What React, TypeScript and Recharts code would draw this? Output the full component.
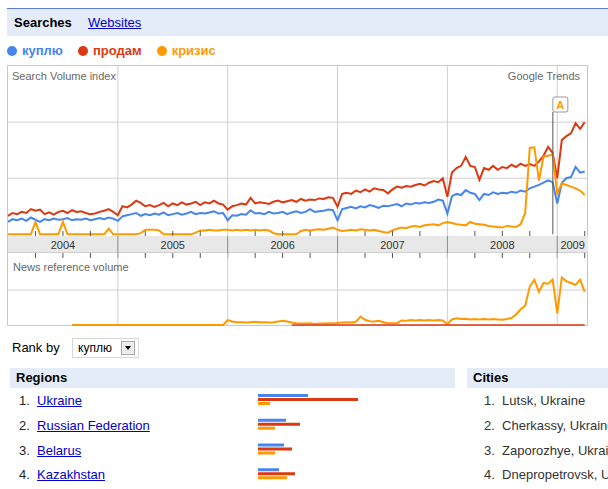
import React from "react";
import { LineChart, Line, XAxis, YAxis, ReferenceLine, BarChart, Bar } from "recharts";

// series (semi-monthly points, Jan 2004 .. early Apr 2009)
const kuplyu = [
  0.22, 0.27, 0.25, 0.28, 0.24, 0.3, 0.26, 0.22, 0.27, 0.25, 0.28, 0.26, 0.27, 0.29, 0.25, 0.27, 0.26, 0.28, 0.25, 0.27, 0.29, 0.27, 0.3, 0.28,
  0.24, 0.32, 0.34, 0.36, 0.38, 0.33, 0.36, 0.34, 0.37, 0.35, 0.39, 0.34, 0.36, 0.38, 0.35, 0.37, 0.4, 0.36, 0.38, 0.37, 0.39, 0.41, 0.37, 0.38,
  0.25, 0.34, 0.33, 0.36, 0.35, 0.43, 0.37, 0.38, 0.36, 0.4, 0.37, 0.38, 0.4, 0.36, 0.39, 0.41, 0.38, 0.4, 0.45, 0.4, 0.41, 0.42, 0.44, 0.43,
  0.25, 0.45, 0.47, 0.49, 0.46, 0.5, 0.48, 0.52, 0.5, 0.47, 0.51, 0.5, 0.52, 0.54, 0.5, 0.55, 0.53, 0.56, 0.55, 0.57, 0.56, 0.58, 0.62, 0.6,
  0.37, 0.68, 0.72, 0.7, 0.79, 0.74, 0.72, 0.61, 0.72, 0.7, 0.75, 0.72, 0.74, 0.73, 0.76, 0.74, 0.78, 0.76, 0.82, 0.85, 0.88, 0.92, 0.96, 0.93,
  0.55, 0.92, 1.0, 1.02, 1.2, 1.1, 1.12,
];
const prodam = [
  0.33, 0.38, 0.36, 0.4, 0.38, 0.45, 0.42, 0.44, 0.36, 0.39, 0.35, 0.4, 0.42, 0.38, 0.43, 0.4, 0.41, 0.38, 0.36, 0.37, 0.4, 0.42, 0.45, 0.4,
  0.34, 0.5, 0.48, 0.53, 0.6, 0.56, 0.5, 0.52, 0.49, 0.52, 0.56, 0.5, 0.55, 0.52, 0.57, 0.53, 0.55, 0.58, 0.52, 0.57, 0.55, 0.6, 0.55, 0.53,
  0.44, 0.5, 0.52, 0.55, 0.53, 0.65, 0.55, 0.57, 0.56, 0.54, 0.58, 0.6, 0.57, 0.59, 0.61, 0.58, 0.63, 0.6, 0.62, 0.61, 0.64, 0.63, 0.66, 0.65,
  0.49, 0.72, 0.74, 0.72, 0.78, 0.75, 0.8, 0.76, 0.82, 0.8, 0.79, 0.73, 0.8, 0.85, 0.83, 0.86, 0.85, 0.88, 0.9, 0.87, 0.92, 0.95, 0.93, 1.0,
  0.67, 1.1, 1.18, 1.22, 1.38, 1.22, 1.2, 0.97, 1.18, 1.15, 1.22, 1.15, 1.2, 1.18, 1.24, 1.2, 1.26, 1.22, 1.25, 1.22, 1.3, 1.4, 1.56, 1.45,
  1.0, 1.68, 1.75, 1.8, 1.98, 1.88, 2.0,
];
const krizis = [
  0, 0, 0, 0, 0, 0, 0.22, 0, 0, 0, 0, 0, 0.22, 0, 0, 0, 0, 0, 0, 0, 0, 0, 0.1, 0,
  0, 0, 0, 0, 0, 0.02, 0.08, 0.08, 0.08, 0.07, 0, 0, 0, 0, 0, 0, 0, 0.03, 0.07, 0.07, 0.08, 0.07, 0.07, 0.08,
  0.08, 0.07, 0.08, 0.07, 0.08, 0.07, 0.08, 0.07, 0.08, 0.07, 0.02, 0, 0, 0, 0, 0, 0.06, 0.08, 0.07, 0.08, 0.09, 0.08, 0.1, 0.12,
  0.08, 0.06, 0.07, 0.08, 0.07, 0.09, 0.08, 0.07, 0.08, 0.06, 0.04, 0.03, 0.07, 0.1, 0.12, 0.11, 0.14, 0.15, 0.13, 0.16, 0.17, 0.18, 0.16, 0.2,
  0.22, 0.2, 0.18, 0.17, 0.16, 0.22, 0.19, 0.18, 0.17, 0.15, 0.14, 0.13, 0.12, 0.15, 0.14, 0.13, 0.18, 0.38, 1.54, 1.55, 0.96, 1.38, 1.4, 1.42,
  0.73, 0.91, 0.88, 0.85, 0.82, 0.78, 0.7,
];

// news reference volume
const newsKrizis = [
  null, null, null, null, null, null, null, null, null, null, null, null, null, null, 0, 0, 0, 0, 0, 0, 0, 0, 0, 0,
  0, 0, 0, 0, 0, 0, 0, 0, 0, 0, 0, 0, 0, 0, 0, 0, 0, 0, 0, 0, 0, 0, 0, 0,
  0.14, 0.1, 0.08, 0.08, 0.07, 0.08, 0.09, 0.08, 0.08, 0.07, 0.08, 0.1, 0.12, 0.1, 0.07, 0.05, 0.04, 0.04, 0.05, 0.03, 0.04, 0.04, 0.05, 0.04,
  0.06, 0.07, 0.08, 0.07, 0.09, 0.24, 0.15, 0.11, 0.1, 0.12, 0.08, 0.05, 0.05, 0.06, 0.13, 0.12, 0.14, 0.13, 0.14, 0.13, 0.14, 0.13, 0.14, 0.13,
  0.02, 0.16, 0.19, 0.17, 0.18, 0.16, 0.17, 0.16, 0.17, 0.16, 0.17, 0.16, 0.15, 0.17, 0.2, 0.3, 0.45, 0.55, 1.1, 1.29, 0.95, 1.2, 1.18, 1.3,
  0.33, 1.36, 1.25, 1.2, 1.15, 1.3, 0.95,
];
const newsProdam = [
  null, null, null, null, null, null, null, null, null, null, null, null, null, null, null, null, null, null, null, null, null, null, null, null,
  null, null, null, null, null, null, null, null, null, null, null, null, null, null, null, null, null, null, null, null, null, null, null, null,
  null, null, null, null, null, null, null, null, null, null, null, null, null, null, 0, 0, 0, 0, 0, 0, 0, 0, 0, 0,
  0, 0, 0, 0, 0, 0, 0, 0, 0, 0, 0, 0, 0, 0, 0, 0, 0, 0, 0, 0, 0, 0, 0, 0,
  0, 0, 0, 0, 0, 0, 0, 0, 0, 0, 0, 0, 0, 0, 0, 0, 0, 0, 0, 0, 0, 0, 0, 0,
  0, 0, 0, 0, 0, 0, 0,
];

const yearLabels = ["2004", "2005", "2006", "2007", "2008", "2009"];
const yearBounds = [2005, 2006, 2007, 2008, 2009];
const markerAt = 2008.96;

const regions = ["Ukraine", "Russian Federation", "Belarus", "Kazakhstan"];
const regionKuplyu = [50, 28, 26, 21];
const regionProdam = [100, 42, 34, 37];
const regionKrizis = [12, 17, 17, 29];
const cities = ["Lutsk, Ukraine", "Cherkassy, Ukraine", "Zaporozhye, Ukraine", "Dnepropetrovsk, Ukraine"];

const BLUE = "#4684ee";
const RED = "#dc3912";
const ORANGE = "#ff9900";
const SERIES = [
  { key: "kuplyu", name: "куплю", color: BLUE },
  { key: "prodam", name: "продам", color: RED },
  { key: "krizis", name: "кризис", color: ORANGE },
];

const FONT = 'Arial, "Liberation Sans", sans-serif';
const X_DOMAIN: [number, number] = [2004, 2009.28];
const STEP = 1 / 24;

const searchRows = kuplyu.map((v, i) => ({
  t: 2004 + i * STEP,
  kuplyu: v,
  prodam: prodam[i],
  krizis: krizis[i],
}));
const newsRows = newsKrizis.map((v, i) => ({
  t: 2004 + i * STEP,
  krizis: v,
  prodam: newsProdam[i],
}));

// label ticks sit mid-year; quarter ticks mark the band edges
const labelTicks = [2004.5, 2005.5, 2006.5, 2007.5, 2008.5, 2009.14];
const quarterTicks: number[] = [];
for (let q = 2004.25; q <= 2009.26; q += 0.25) quarterTicks.push(Math.round(q * 100) / 100);
const axisTicks = [...quarterTicks, 2009.14];

const BAND_H = 17;

function BandTick(props: any) {
  const { x, y, payload } = props;
  const v = payload.value;
  const labelIdx = labelTicks.findIndex((l) => Math.abs(l - v) < 0.001);
  const isYear = Math.abs(v - Math.round(v)) < 0.001;
  const isQuarter = Math.abs(v * 4 - Math.round(v * 4)) < 0.001;
  return (
    <g>
      {isYear && <line x1={x} x2={x} y1={y} y2={y + BAND_H} stroke="#8a8a8a" />}
      {isQuarter && !isYear && <line x1={x} x2={x} y1={y - 5} y2={y} stroke="#555" />}
      {isQuarter && <line x1={x} x2={x} y1={y + BAND_H} y2={y + BAND_H + 5} stroke="#555" />}
      {labelIdx >= 0 && (
        <text x={x} y={y + 12.5} textAnchor="middle" fontSize={11} fill="#333" fontFamily={FONT}>
          {yearLabels[labelIdx]}
        </text>
      )}
    </g>
  );
}

function ZeroTick(props: any) {
  const { x, y } = props;
  return (
    <text x={x + 4} y={y - 2} textAnchor="start" fontSize={11} fill="#666" fontFamily={FONT}>
      0
    </text>
  );
}

function MarkerLabel(props: any) {
  const { viewBox } = props;
  const x = viewBox.x;
  const y = viewBox.y;
  return (
    <g>
      <rect x={x} y={y - 15} width={15} height={15} rx={2} fill="#fff" stroke="#999" />
      <text x={x + 7.5} y={y - 3.5} textAnchor="middle" fontSize={11} fontWeight="bold" fill={ORANGE} fontFamily={FONT}>
        A
      </text>
    </g>
  );
}

const abs = (left: number, top: number, extra: React.CSSProperties = {}): React.CSSProperties => ({
  position: "absolute",
  left,
  top,
  ...extra,
});

export default function App() {
  return (
    <div style={{ position: "relative", width: 608, height: 489, overflow: "hidden", fontFamily: FONT, background: "#fff" }}>
      <style>{"body{margin:0}.recharts-surface{overflow:visible}"}</style>

      {/* tabs */}
      <div style={abs(7, 8, { width: 601, height: 1, background: "#5b7fd0" })} />
      <div style={abs(7, 9, { width: 601, height: 27, background: "#e5ecf9" })} />
      <div style={abs(14, 15, { fontSize: 13, fontWeight: "bold", color: "#000" })}>Searches</div>
      <div style={abs(88, 15, { fontSize: 13, color: "#0000cc", textDecoration: "underline" })}>Websites</div>

      {/* legend */}
      <div style={abs(7, 43, { display: "flex", alignItems: "center", fontSize: 13, fontWeight: "bold" })}>
        {SERIES.map((s) => (
          <div key={s.key} style={{ display: "flex", alignItems: "center", marginRight: 15 }}>
            <span style={{ width: 10, height: 10, borderRadius: 5, background: s.color, marginRight: 5 }} />
            <span style={{ color: s.color }}>{s.name}</span>
          </div>
        ))}
      </div>

      {/* frame + axis band */}
      <div style={abs(7, 65, { width: 581, height: 261, border: "1px solid #c9c9c9", boxSizing: "border-box" })} />
      <div style={abs(8, 236, { width: 580, height: 17, background: "#e8e8e8", borderBottom: "1px solid #cfcfcf", boxSizing: "border-box" })} />

      <div style={abs(0, 60)}>
        <LineChart width={608} height={193} data={searchRows} margin={{ top: 6, right: 20, bottom: 0, left: 8 }}>
          <XAxis
            dataKey="t"
            type="number"
            domain={X_DOMAIN}
            ticks={axisTicks}
            interval={0}
            tick={<BandTick />}
            tickLine={false}
            axisLine={false}
            tickSize={0}
            tickMargin={0}
            height={BAND_H}
          />
          <YAxis type="number" domain={[-0.03, 3]} ticks={[0]} width={0} mirror axisLine={false} tickLine={false} tickSize={0} tickMargin={0} tick={<ZeroTick />} />
          {yearBounds.map((yb) => (
            <ReferenceLine key={yb} x={yb} stroke="#cfcfcf" />
          ))}
          <ReferenceLine y={1} stroke="#cfcfcf" />
          <ReferenceLine y={2} stroke="#cfcfcf" />
          {SERIES.map((s) => (
            <Line key={s.key} dataKey={s.key} stroke={s.color} strokeWidth={2} dot={false} isAnimationActive={false} />
          ))}
          <ReferenceLine
            segment={[
              { x: markerAt, y: 0 },
              { x: markerAt, y: 2.18 },
            ]}
            stroke="#555"
            label={<MarkerLabel />}
          />
        </LineChart>
      </div>

      <div style={abs(0, 253)}>
        <LineChart width={608} height={73} data={newsRows} margin={{ top: 0, right: 20, bottom: 1, left: 8 }}>
          <XAxis dataKey="t" type="number" domain={X_DOMAIN} hide />
          <YAxis type="number" domain={[0, 2.06]} ticks={[0]} width={0} mirror axisLine={false} tickLine={false} tickSize={0} tickMargin={0} tick={<ZeroTick />} />
          {yearBounds.map((yb) => (
            <ReferenceLine key={yb} x={yb} stroke="#cfcfcf" />
          ))}
          <ReferenceLine y={1} stroke="#cfcfcf" />
          <Line dataKey="krizis" stroke={ORANGE} strokeWidth={2} dot={false} isAnimationActive={false} />
          <Line dataKey="prodam" stroke={RED} strokeWidth={1.5} dot={false} isAnimationActive={false} />
        </LineChart>
      </div>

      <div style={abs(12, 70, { fontSize: 11, color: "#666", whiteSpace: "nowrap" })}>Search Volume index</div>
      <div style={abs(480, 70, { fontSize: 11, color: "#666", width: 100, textAlign: "right", whiteSpace: "nowrap" })}>Google Trends</div>
      <div style={abs(13, 261, { fontSize: 11, color: "#666", whiteSpace: "nowrap" })}>News reference volume</div>

      {/* rank by */}
      <div style={abs(12, 340, { fontSize: 13, color: "#000" })}>Rank by</div>
      <div style={abs(72, 338, { width: 67, height: 20, border: "1px solid #d8d8d8", boxSizing: "border-box", fontSize: 12, lineHeight: "18px", paddingLeft: 5, background: "#fff" })}>
        куплю
        <div style={abs(48, 2, { width: 14, height: 14, border: "1px solid #aaa", boxSizing: "border-box", background: "#eee" })}>
          <div style={abs(3, 4, { width: 0, height: 0, borderLeft: "3.5px solid transparent", borderRight: "3.5px solid transparent", borderTop: "4px solid #000" })} />
        </div>
      </div>

      {/* regions / cities */}
      <div style={abs(10, 368, { width: 445, height: 20, background: "#e5ecf9", fontSize: 13, fontWeight: "bold", lineHeight: "20px", paddingLeft: 6, boxSizing: "border-box" })}>Regions</div>
      <div style={abs(467, 368, { width: 141, height: 20, background: "#e5ecf9", fontSize: 13, fontWeight: "bold", lineHeight: "20px", paddingLeft: 6, boxSizing: "border-box" })}>Cities</div>

      {regions.map((r, i) => (
        <div key={r} style={abs(19, 392 + i * 24.8, { fontSize: 13, lineHeight: "18px", color: "#222", whiteSpace: "nowrap" })}>
          {i + 1}.&nbsp;&nbsp;<span style={{ color: "#0000cc", textDecoration: "underline" }}>{r}</span>
        </div>
      ))}
      {cities.map((c, i) => (
        <div key={c} style={abs(484, 392 + i * 24.8, { fontSize: 13, lineHeight: "18px", color: "#333", whiteSpace: "nowrap" })}>
          {i + 1}.&nbsp;&nbsp;{c}
        </div>
      ))}

      <div style={abs(258, 387)}>
        <BarChart
          width={101}
          height={99}
          layout="vertical"
          data={regions.map((r, i) => ({ name: r, kuplyu: regionKuplyu[i], prodam: regionProdam[i], krizis: regionKrizis[i] }))}
          margin={{ top: 0, right: 1, bottom: 0, left: 0 }}
          barSize={3}
          barGap={1}
        >
          <XAxis type="number" domain={[0, 100]} hide />
          <YAxis type="category" dataKey="name" hide />
          {SERIES.map((s) => (
            <Bar key={s.key} dataKey={s.key} fill={s.color} isAnimationActive={false} />
          ))}
        </BarChart>
      </div>
    </div>
  );
}
